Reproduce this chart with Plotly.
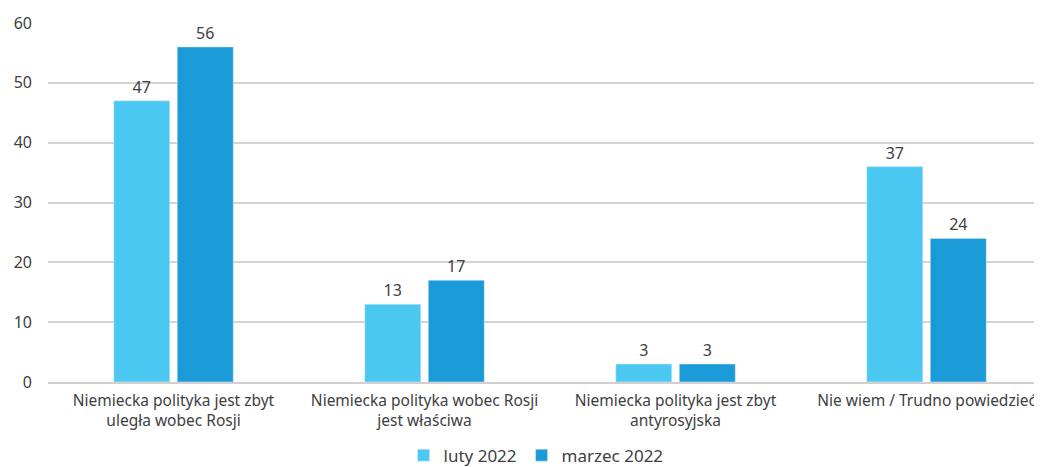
import plotly.graph_objects as go

categories = [
    "Niemiecka polityka jest zbyt<br>uległa wobec Rosji",
    "Niemiecka polityka wobec Rosji<br>jest właściwa",
    "Niemiecka polityka jest zbyt<br>antyrosyjska",
    "Nie wiem / Trudno powiedzieć",
]
luty_values = [47, 13, 3, 36]
luty_labels = ["47", "13", "3", "37"]
marzec_values = [56, 17, 3, 24]
marzec_labels = ["56", "17", "3", "24"]
y_ticks = [0, 10, 20, 30, 40, 50, 60]

FONT = "Noto Sans"
TXT = "#404040"

fig = go.Figure()
fig.add_trace(go.Bar(
    name="luty 2022", x=categories, y=luty_values, text=luty_labels,
    textposition="outside", marker_color="#4BC8F2", cliponaxis=False,
    textfont=dict(size=16, color=TXT, family=FONT),
))
fig.add_trace(go.Bar(
    name="marzec 2022", x=categories, y=marzec_values, text=marzec_labels,
    textposition="outside", marker_color="#1A9AD7", cliponaxis=False,
    textfont=dict(size=16, color=TXT, family=FONT),
))

# page body has an 8px margin, so the figure is sized to fill the rest of the window
fig.update_layout(
    width=1034, height=459,
    margin=dict(l=40, r=0, t=15, b=85, autoexpand=False),
    plot_bgcolor="white", paper_bgcolor="white",
    barmode="group", bargap=0.494, bargroupgap=0.118,
    font=dict(family=FONT, size=16, color=TXT),
    legend=dict(orientation="h", x=0.491, xanchor="center", y=-0.205, yanchor="middle",
                font=dict(size=17, color=TXT), itemwidth=30),
    showlegend=True,
)
fig.update_xaxes(
    type="category", range=[-0.5, 3.46], showgrid=False,
    showline=True, linecolor="#d0d0d0", linewidth=2,
    tickfont=dict(size=15.5, color=TXT), ticks="", ticklabelstandoff=3,
)
fig.update_yaxes(
    range=[0, 60], tickvals=y_ticks, showgrid=True, gridcolor="#d3d3d3", gridwidth=2,
    zeroline=False, showline=False, ticks="", ticklabelstandoff=15,
    tickfont=dict(size=16, color=TXT),
)

fig.write_html("out.html")
